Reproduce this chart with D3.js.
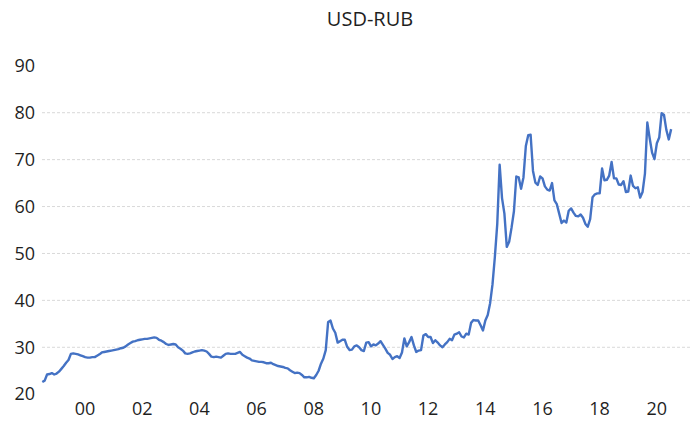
<!DOCTYPE html>
<html>
<head>
<meta charset="utf-8">
<script src="https://cdn.jsdelivr.net/npm/d3@7"></script>
<style>
  body { margin: 0; background: #fff; }
  svg { display: block; font-family: "Open Sans", sans-serif; }
</style>
</head>
<body>
<svg width="690" height="425"></svg>
<script>
// month-end USD-RUB, Jan 1999 .. Jan 2021
const startYear = 1999;
const usdRub = [
  22.6, 22.9, 24.2, 24.3, 24.5, 24.2, 24.4, 24.8, 25.4, 26.0, 26.7, 27.3, // 1999
  28.6, 28.7, 28.6, 28.5, 28.3, 28.1, 27.9, 27.8, 27.8, 27.9, 27.9, 28.2, // 2000
  28.5, 28.9, 29.0, 29.1, 29.2, 29.3, 29.4, 29.5, 29.6, 29.8, 29.9, 30.2, // 2001
  30.6, 30.9, 31.2, 31.3, 31.5, 31.6, 31.7, 31.8, 31.8, 31.9, 32.0, 32.1, // 2002
  32.0, 31.6, 31.4, 31.1, 30.7, 30.5, 30.6, 30.7, 30.6, 30.0, 29.7, 29.3, // 2003
  28.7, 28.6, 28.7, 28.9, 29.1, 29.2, 29.3, 29.4, 29.3, 29.1, 28.6, 28.0, // 2004
  27.9, 28.0, 27.9, 27.8, 28.2, 28.6, 28.7, 28.6, 28.6, 28.6, 28.8, 29.0, // 2005
  28.4, 28.1, 27.8, 27.6, 27.2, 27.1, 27.0, 26.9, 26.9, 26.8, 26.6, 26.6, // 2006
  26.7, 26.4, 26.2, 26.0, 25.9, 25.8, 25.6, 25.5, 25.1, 24.8, 24.5, 24.6, // 2007
  24.5, 24.1, 23.6, 23.6, 23.7, 23.5, 23.4, 24.1, 25.0, 26.5, 27.6, 29.4, // 2008
  35.4, 35.7, 34.0, 33.1, 31.0, 31.3, 31.6, 31.6, 30.1, 29.4, 29.5, 30.2, // 2009
  30.4, 30.0, 29.4, 29.2, 31.0, 31.1, 30.2, 30.6, 30.4, 30.8, 31.3, 30.5, // 2010
  29.7, 28.8, 28.4, 27.5, 27.9, 28.1, 27.7, 28.9, 31.9, 30.2, 31.1, 32.2, // 2011
  30.4, 29.0, 29.3, 29.4, 32.5, 32.8, 32.2, 32.2, 30.9, 31.5, 31.0, 30.4, // 2012
  30.0, 30.6, 31.1, 31.8, 31.5, 32.7, 32.9, 33.2, 32.3, 32.1, 32.9, 32.7, // 2013
  35.2, 35.8, 35.7, 35.7, 34.7, 33.6, 35.7, 36.9, 39.4, 43.4, 49.3, 56.3, // 2014
  68.9, 61.8, 58.5, 51.4, 52.5, 55.5, 59.0, 66.4, 66.2, 63.8, 66.2, 72.9, // 2015
  75.2, 75.3, 67.6, 65.1, 64.6, 66.4, 66.0, 64.3, 63.6, 63.4, 65.0, 61.3, // 2016
  60.5, 58.5, 56.5, 57.0, 56.6, 59.1, 59.6, 58.7, 58.0, 57.9, 58.3, 57.6, // 2017
  56.3, 55.7, 57.3, 62.0, 62.6, 62.8, 62.8, 68.1, 65.6, 65.7, 66.6, 69.5, // 2018
  66.0, 66.0, 64.7, 64.6, 65.4, 63.1, 63.2, 66.6, 64.4, 63.9, 64.1, 61.9, // 2019
  63.1, 67.0, 77.9, 74.5, 71.5, 70.1, 73.5, 74.7, 79.9, 79.5, 76.3, 74.3, // 2020
  76.5                                                                     // 2021
];
const yTicks = [20, 30, 40, 50, 60, 70, 80, 90];
const gridTicks = [30, 40, 50, 60, 70, 80];
const tickYears = [2000, 2002, 2004, 2006, 2008, 2010, 2012, 2014, 2016, 2018, 2020];

const svg = d3.select("svg");

const x = d3.scaleLinear()
  .domain([0, usdRub.length - 1])
  .range([42.3, 42.3 + (usdRub.length - 1) * 2.382]);

const y = d3.scaleLinear()
  .domain([20, 90])
  .range([394.2, 65.8]);

// title
svg.append("text")
  .attr("x", 370)
  .attr("y", 26)
  .attr("text-anchor", "middle")
  .style("font-size", "20px")
  .attr("fill", "#1f1f1f")
  .text("USD-RUB");

// gridlines
svg.append("g")
  .selectAll("line")
  .data(gridTicks)
  .enter().append("line")
  .attr("x1", 42)
  .attr("x2", 690)
  .attr("y1", d => y(d))
  .attr("y2", d => y(d))
  .attr("stroke", "#d9d9d9")
  .attr("stroke-width", 1)
  .attr("stroke-dasharray", "3,2");

// y axis labels
const yAxis = svg.append("g")
  .attr("transform", "translate(35,0)")
  .call(d3.axisLeft(y).tickValues(yTicks).tickSize(0).tickPadding(0));
yAxis.select(".domain").remove();
yAxis.selectAll("text")
  .style("font-size", "18px")
  .style("font-family", "'Open Sans', sans-serif")
  .attr("fill", "#1f1f1f");

// x axis labels, centred on the middle of each labelled year
const xAxis = svg.append("g")
  .attr("transform", "translate(0,398)")
  .call(d3.axisBottom(x)
    .tickValues(tickYears.map(yr => (yr - startYear) * 12 + 5.75))
    .tickFormat((d, i) => String(tickYears[i] % 100).padStart(2, "0"))
    .tickSize(0)
    .tickPadding(4));
xAxis.select(".domain").remove();
xAxis.selectAll("text")
  .style("font-size", "18px")
  .style("font-family", "'Open Sans', sans-serif")
  .attr("fill", "#1f1f1f");

// the series
const line = d3.line()
  .x((d, i) => x(i))
  .y(d => y(d));

svg.append("path")
  .datum(usdRub)
  .attr("fill", "none")
  .attr("stroke", "#4472c4")
  .attr("stroke-width", 2.4)
  .attr("stroke-linejoin", "round")
  .attr("d", line);
</script>
</body>
</html>
